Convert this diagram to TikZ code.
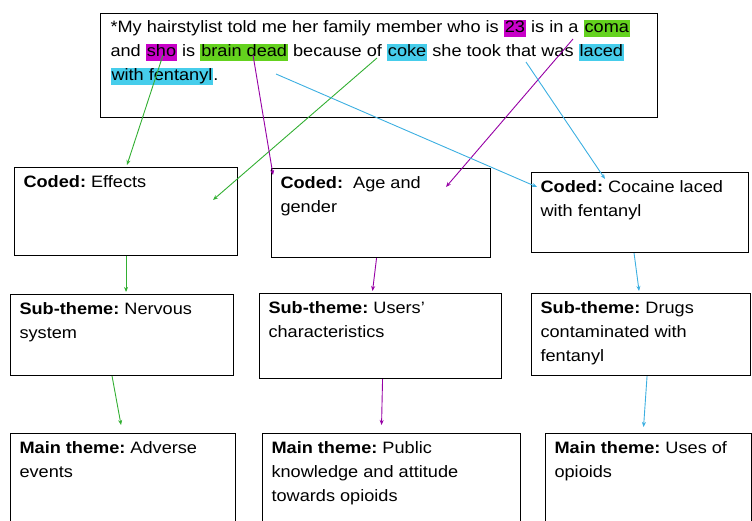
\documentclass[tikz,border=0pt]{standalone}
\usepackage{fontspec}
\setmainfont{Liberation Sans}[FakeStretch=1.1]
\usetikzlibrary{arrows.meta}
\definecolor{CodeGreen}{RGB}{50,175,50}
\definecolor{CodePurple}{RGB}{150,0,165}
\definecolor{CodeCyan}{RGB}{60,175,225}
\definecolor{HlGreen}{RGB}{100,210,30}
\definecolor{HlPurple}{RGB}{200,0,200}
\definecolor{HlCyan}{RGB}{70,205,235}
\newcommand{\hlword}[2]{{\setlength{\fboxsep}{1pt}\colorbox{#1}{\vphantom{dg}#2}}}
\newcommand{\cellbody}[3]{\parbox[t][#2][t]{#1}{\raggedright\frenchspacing #3}}
\tikzset{
    themebox/.style={draw=black, line width=1.1pt, anchor=north west, inner xsep=9pt, inner ysep=8pt, font=\fontsize{16.5}{24}\selectfont},
    link/.style={-{Stealth[length=5pt,width=4pt]}, line width=0.9pt}
}
\begin{document}
\begin{tikzpicture}[x=1pt,y=-1pt]
\useasboundingbox (0,0) rectangle (752,521);
% quote
\node[themebox, inner xsep=10pt, inner ysep=6pt] (quote) at (100,13) {\cellbody{537pt}{92pt}{*My hairstylist told me her family member who is \hlword{HlPurple}{23} is in a \hlword{HlGreen}{coma}\\
and \hlword{HlPurple}{sho} is \hlword{HlGreen}{brain dead} because of \hlword{HlCyan}{coke} she took that was \hlword{HlCyan}{laced}\\
\hlword{HlCyan}{with fentanyl}.}};
% coded
\node[themebox] (effects) at (14,167) {\cellbody{205pt}{72pt}{\textbf{Coded:} Effects}};
\node[themebox] (agegender) at (271,168) {\cellbody{201pt}{73pt}{\textbf{Coded:}\ \ Age and\\ gender}};
\node[themebox] (laced) at (531,172) {\cellbody{199pt}{64pt}{\textbf{Coded:} Cocaine laced\\ with fentanyl}};
% sub-themes
\node[themebox] (nervous) at (10,294) {\cellbody{205pt}{65pt}{\textbf{Sub-theme:} Nervous\\ system}};
\node[themebox] (users) at (259,293) {\cellbody{224pt}{69pt}{\textbf{Sub-theme:} Users'\\ characteristics}};
\node[themebox] (contaminated) at (531,293) {\cellbody{201pt}{66pt}{\textbf{Sub-theme:} Drugs\\ contaminated with\\ fentanyl}};
% main themes
\node[themebox] (adverse) at (10,433) {\cellbody{207pt}{84pt}{\textbf{Main theme:} Adverse\\ events}};
\node[themebox] (public) at (262,433) {\cellbody{240pt}{84pt}{\textbf{Main theme:} Public\\ knowledge and attitude\\ towards opioids}};
\node[themebox] (uses) at (545,433) {\cellbody{188pt}{84pt}{\textbf{Main theme:} Uses of\\ opioids}};
% ends of the links from the quote
\coordinate (g1s) at (163,55);  \coordinate (g1e) at (127,165);
\coordinate (g2s) at (377,58);  \coordinate (g2e) at (213,200);
\coordinate (p1s) at (253,55);  \coordinate (p1e) at (273,175);
\coordinate (p2s) at (573,39);  \coordinate (p2e) at (446,187);
\coordinate (c1s) at (276,74);  \coordinate (c1e) at (537,187);
\coordinate (c2s) at (526,62);  \coordinate (c2e) at (605,179);
\draw[link, CodeGreen] (g1s) -- (g1e);
\draw[link, CodeGreen] (g2s) -- (g2e);
\draw[link, CodePurple] (p1s) -- (p1e);
\draw[link, CodePurple] (p2s) -- (p2e);
\draw[link, CodeCyan] (c1s) -- (c1e);
\draw[link, CodeCyan] (c2s) -- (c2e);
% coded -> sub-theme -> main theme
\draw[link, CodeGreen] (effects.south) -- ([xshift=4pt,yshift=2pt]nervous.north);
\draw[link, CodePurple] ([xshift=-4.5pt]agegender.south) -- ([xshift=-8pt,yshift=2pt]users.north);
\draw[link, CodeCyan] ([xshift=-6pt]laced.south) -- ([xshift=-2pt,yshift=2pt]contaminated.north);
\draw[link, CodeGreen] ([xshift=-10pt]nervous.south) -- ([xshift=-2pt,yshift=8pt]adverse.north);
\draw[link, CodePurple] ([xshift=2pt]users.south) -- ([xshift=-10pt,yshift=8pt]public.north);
\draw[link, CodeCyan] ([xshift=6pt]contaminated.south) -- ([xshift=-5pt,yshift=6pt]uses.north);
\end{tikzpicture}
\end{document}
